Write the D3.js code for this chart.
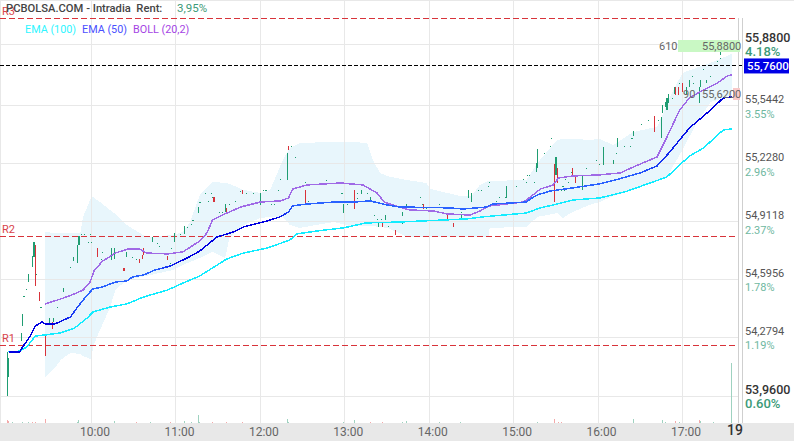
<!DOCTYPE html>
<html>
<head>
  <script src="https://d3js.org/d3.v7.min.js"></script>
  <style>
    body { margin: 0; background: #fff; }
    svg { display: block; font-family: Roboto, sans-serif; }
    .tick line, .domain { display: none; }
    .crisp { shape-rendering: crispEdges; }
  </style>
</head>
<body>
<svg id="chart" width="794" height="441"></svg>
<script>
// minutes after 09:00, prices in euro
const hourTicks = [60, 120, 180, 240, 300, 360, 420, 480];
const priceTicks = [55.88, 55.5442, 55.228, 54.9118, 54.5956, 54.2794, 53.96];
const pctTicks = ["4.18%", "3.55%", "2.96%", "2.37%", "1.78%", "1.19%", "0.60%"];
const pivotNames = ["R1", "R2", "R3"];
const pivotValues = [54.237, 54.831, 56.02];
const lastPrice = 55.763;

const ema50Min = [1,9,11,16,20,25,27,34,45,50,57,61,68,77,85,89,97,105,116,128,137,144,149,161,168,185,194,200,203,213,232,246,258,270,279,315,324,341,345,369,372,377,386,402,421,432,450,462,471,478,485,490,500,509,515];
const ema50Val = [54.2,54.2,54.227,54.282,54.342,54.364,54.353,54.353,54.391,54.445,54.511,54.544,54.555,54.582,54.587,54.609,54.62,54.647,54.669,54.713,54.751,54.795,54.827,54.855,54.882,54.915,54.937,54.964,54.997,55.007,55.018,55.018,55.024,55.002,54.991,54.986,54.98,54.991,55.007,55.018,55.035,55.057,55.078,55.095,55.117,55.138,55.177,55.215,55.291,55.357,55.422,55.455,55.52,55.586,55.591];

const ema100Min = [1,9,14,20,27,38,48,57,61,73,85,97,114,125,137,156,168,185,201,206,220,239,255,279,296,327,338,369,379,391,402,421,439,457,469,478,485,495,509,515];
const ema100Val = [54.2,54.205,54.227,54.287,54.293,54.304,54.331,54.386,54.418,54.445,54.462,54.5,54.538,54.576,54.615,54.707,54.74,54.767,54.811,54.844,54.86,54.877,54.904,54.909,54.915,54.926,54.937,54.958,54.986,55.007,55.029,55.04,55.073,55.122,55.155,55.22,55.269,55.313,55.411,55.417];

const bollMin = [27,38,46,54,59,62,68,77,86,94,99,114,125,137,142,146,153,166,180,194,200,203,213,237,253,263,268,279,286,303,313,329,336,343,367,372,379,388,392,402,421,436,445,462,469,478,485,495,505,512,515];
const bollVal = [54.462,54.489,54.511,54.538,54.582,54.647,54.696,54.74,54.762,54.762,54.74,54.735,54.746,54.806,54.849,54.92,54.947,54.991,55.018,55.024,55.04,55.089,55.111,55.122,55.111,55.067,55.018,54.991,54.975,54.969,54.953,54.947,54.969,54.997,55.018,55.046,55.089,55.111,55.149,55.16,55.166,55.177,55.209,55.264,55.373,55.52,55.586,55.63,55.668,55.706,55.711];

const bandMin = [27,34,38,45,52,54,59,60,61,66,73,77,85,99,118,125,130,137,146,155,158,168,180,187,196,201,208,232,244,256,260,265,270,277,284,298,301,322,330,336,342,343,369,377,391,395,402,414,421,431,445,462,469,471,480,490,500,505,515];
const bandUpper = [54.855,54.849,54.849,54.849,54.849,54.937,55.029,55.046,55.046,55.018,54.975,54.953,54.893,54.827,54.838,54.855,54.909,55.057,55.128,55.122,55.117,55.084,55.068,55.084,55.248,55.313,55.34,55.346,55.346,55.34,55.248,55.177,55.16,55.149,55.138,55.122,55.089,55.051,55.051,55.111,55.133,55.133,55.138,55.231,55.357,55.362,55.362,55.357,55.362,55.329,55.4,55.428,55.548,55.591,55.722,55.75,55.777,55.793,55.826];
const bandLower = [54.064,54.113,54.156,54.195,54.189,54.178,54.162,54.156,54.227,54.32,54.44,54.538,54.593,54.615,54.647,54.675,54.691,54.713,54.746,54.713,54.822,54.893,54.931,54.937,54.937,54.893,54.877,54.909,54.887,54.887,54.887,54.882,54.877,54.855,54.827,54.827,54.827,54.827,54.827,54.827,54.827,54.877,54.882,54.937,54.958,54.931,54.964,55.002,55.018,55.051,55.084,55.138,55.155,55.182,55.302,55.449,55.564,55.575,55.602];

const candleMin = [0,1,10,11,15,18,19,20,23,27,30,32,33,40,47,50,51,64,74,76,83,85,94,96,97,103,114,119,126,136,147,155,156,167,180,199,200,212,239,247,252,258,264,267,269,276,281,284,296,313,317,323,328,330,355,376,377,389,390,391,402,404,409,424,431,434,445,460,465,466,468,469,470,474,475,477,480,483,485,492,493,497,507];
const candleHigh = [54.2,54.167,54.304,54.407,54.626,54.724,54.8,54.784,54.527,54.293,54.386,54.364,54.386,54.549,54.718,54.784,54.833,54.767,54.767,54.767,54.658,54.746,54.707,54.729,54.767,54.827,54.724,54.849,54.887,54.991,55.046,55.007,54.986,55.084,55.068,55.286,55.324,55.084,55.007,55.084,55.084,55.046,54.904,54.904,54.947,54.866,54.964,55.007,55.007,54.953,54.904,54.947,55.084,55.068,55.106,55.231,55.308,55.226,55.264,55.204,55.204,55.166,55.166,55.318,55.248,55.368,55.406,55.488,55.482,55.548,55.564,55.586,55.608,55.646,55.646,55.646,55.668,55.646,55.684,55.646,55.684,55.684,55.848];
const candleLow = [53.96,54.064,54.26,54.342,54.582,54.664,54.718,54.56,54.478,54.178,54.358,54.326,54.364,54.527,54.696,54.686,54.784,54.718,54.702,54.707,54.642,54.718,54.686,54.707,54.729,54.8,54.702,54.8,54.844,54.958,55.018,54.964,54.958,55.062,55.002,55.138,55.302,55.002,54.958,54.98,55.062,55.018,54.882,54.882,54.92,54.838,54.942,54.975,54.98,54.92,54.882,54.92,55.04,55.018,55.04,55.182,55.204,55.018,55.166,55.122,55.16,55.122,55.084,55.22,55.226,55.318,55.379,55.4,55.368,55.504,55.537,55.52,55.558,55.608,55.602,55.602,55.619,55.602,55.646,55.558,55.646,55.668,55.82];
const candleUp = [1,1,1,1,1,1,1,0,0,0,1,0,1,1,1,1,1,0,1,1,0,1,0,0,0,1,0,1,1,1,0,1,0,0,1,1,0,0,1,0,1,1,1,0,1,0,1,1,0,0,0,1,1,1,1,1,1,0,1,0,0,0,1,1,1,1,1,0,1,1,1,1,1,1,0,0,0,1,1,1,1,1,1];

const dojiMin = [12,14,21,24,36,45,53,55,59,58,60,67,68,89,92,107,108,116,117,123,128,131,132,137,141,143,145,146,151,153,158,162,166,170,175,182,184,188,190,193,194,202,205,212,214,227,238,242,249,249,256,261,263,266,271,281,294,295,298,307,323,335,337,342,343,348,350,354,362,367,369,370,371,375,382,386,387,394,395,396,397,399,401,412,419,421,433,439,443,444,451,456,463,473,478,487,488,495,500,505,507];
const dojiVal = [54.505,54.544,54.626,54.445,54.445,54.664,54.844,54.844,54.844,54.8,54.8,54.707,54.746,54.718,54.707,54.795,54.778,54.686,54.767,54.844,54.882,54.898,54.92,55.018,55.068,55.024,55.068,55.046,54.964,54.964,55.007,55.024,55.078,55.068,55.068,55.084,55.084,55.007,55.007,55.084,55.144,55.324,55.264,55.128,55.024,55.138,55.068,55.007,55.068,55.04,55.068,54.947,54.926,54.926,54.887,54.904,55.046,55.007,54.986,55.007,54.964,55.084,55.084,55.106,55.128,55.024,55.046,55.046,55.106,55.144,55.128,55.166,55.166,55.128,55.286,55.324,55.368,55.084,55.106,55.084,55.144,55.128,55.182,55.204,55.248,55.226,55.286,55.324,55.324,55.368,55.444,55.466,55.466,55.586,55.668,55.706,55.668,55.744,55.706,55.788,55.804];

const volMin = [0,1,4,11,15,18,20,27,50,51,76,92,102,116,126,131,136,137,146,156,167,199,200,239,247,258,267,281,284,307,322,377,389,392,394,445,466,468,475,478,492,493,502,515];
const volVal = [3.5,2.5,1,1,1,1,1.5,4,1,3,2,1,1,1,2,1,8,1,1,1,1,4,1,1,3,1,1,1,2,1,1,1,4,1,1,4,3,1,2,1,3,2,1,60];
const volUp = [0,0,1,1,1,0,0,0,1,1,1,0,1,0,1,1,1,1,0,0,0,1,1,1,1,0,0,1,1,1,1,1,0,0,0,1,1,1,0,1,0,1,1,1];

const svg = d3.select("#chart");
const x = d3.scaleLinear().domain([0, 515]).range([7.1, 731.7]);
const y = d3.scaleLinear().domain([53.96, 55.88]).range([396, 44]);
const yVol = d3.scaleLinear().domain([0, 60]).range([423, 363]);
const green = "#1f9d72", red = "#d8323a";

// band first, the grid sits on top of it
const band = d3.area().x((d, i) => x(bandMin[i])).y0((d, i) => y(bandLower[i])).y1(d => y(d));
svg.append("path").attr("class", "crisp").attr("d", band(bandUpper)).attr("fill", "#e8f6fc");

const grid = svg.append("g").attr("class", "crisp").attr("stroke", "#e8e8e8");
grid.selectAll("line.h").data(priceTicks).join("line").attr("class", "h")
  .attr("x1", 0).attr("x2", 738).attr("y1", d => y(d)).attr("y2", d => y(d));
grid.selectAll("line.v").data(hourTicks).join("line").attr("class", "v")
  .attr("x1", d => x(d)).attr("x2", d => x(d)).attr("y1", 0).attr("y2", 423);
grid.append("line").attr("x1", 0).attr("x2", 794).attr("y1", 0.5).attr("y2", 0.5);
grid.append("line").attr("x1", 0.5).attr("x2", 0.5).attr("y1", 0).attr("y2", 423);

// volume
svg.append("g").attr("class", "crisp").selectAll("rect").data(volVal).join("rect")
  .attr("x", (d, i) => x(volMin[i]) - 0.5).attr("width", 1)
  .attr("y", d => yVol(d)).attr("height", d => yVol(0) - yVol(d))
  .attr("fill", (d, i) => volUp[i] ? "#9fd2c0" : "#f3a9a9");

// pivots
svg.append("g").attr("class", "crisp").selectAll("line").data(pivotValues).join("line")
  .attr("x1", 0).attr("x2", 736).attr("y1", d => y(d)).attr("y2", d => y(d))
  .attr("stroke", "#d8333a").attr("stroke-width", 1).attr("stroke-dasharray", "6,3");
svg.append("g").selectAll("text").data(pivotValues).join("text")
  .attr("x", 2).attr("y", d => y(d) - 3).text((d, i) => pivotNames[i])
  .attr("font-size", 11).attr("fill", "#d8434a");

// candles and dots
svg.append("g").attr("class", "crisp").selectAll("rect").data(candleHigh).join("rect")
  .attr("x", (d, i) => x(candleMin[i]) - 0.5).attr("width", 1.2)
  .attr("y", d => y(d)).attr("height", (d, i) => y(candleLow[i]) - y(d))
  .attr("fill", (d, i) => candleUp[i] ? green : red);
svg.append("g").attr("class", "crisp").selectAll("rect").data(dojiVal).join("rect")
  .attr("x", (d, i) => x(dojiMin[i]) - 0.5).attr("y", d => y(d)).attr("width", 1.2).attr("height", 1.2)
  .attr("fill", green);

// lines
const defs = svg.append("defs");
const ema50Tone = defs.append("linearGradient").attr("id", "ema50Tone")
  .attr("gradientUnits", "userSpaceOnUse").attr("x1", 0).attr("x2", 794).attr("y1", 0).attr("y2", 0);
[[0, "#0000e0"], [35, "#0000e0"], [55, "#2a62ff"], [105, "#2a62ff"], [125, "#0000e0"], [190, "#0000e0"], [205, "#2a62ff"], [445, "#2a62ff"], [490, "#0000e0"]]
  .forEach(s => ema50Tone.append("stop").attr("offset", x(s[0]) / 794).attr("stop-color", s[1]));

function drawLine(mins, vals, color) {
  const line = d3.line().x((d, i) => x(mins[i])).y(d => y(d));
  svg.append("path").attr("class", "crisp").attr("d", line(vals))
    .attr("fill", "none").attr("stroke", color).attr("stroke-width", 1.5);
}
drawLine(ema100Min, ema100Val, "#12ecff");
drawLine(bollMin, bollVal, "#a06ae6");
drawLine(ema50Min, ema50Val, "url(#ema50Tone)");

// last price line
svg.append("line").attr("class", "crisp").attr("x1", 0).attr("x2", 743).attr("y1", y(lastPrice)).attr("y2", y(lastPrice))
  .attr("stroke", "#000").attr("stroke-width", 1).attr("stroke-dasharray", "4,2");

// right axis rails and bottom strip
svg.append("rect").attr("x", 0).attr("y", 423).attr("width", 794).attr("height", 18).attr("fill", "#e8e8e8");
svg.append("g").attr("class", "crisp").attr("stroke", "#cfcfcf").attr("stroke-width", 1.5)
  .selectAll("line").data([738.5, 742.5]).join("line")
  .attr("x1", d => d).attr("x2", d => d).attr("y1", 18).attr("y2", 423);

const timeAxis = d3.axisBottom(x).tickValues(hourTicks).tickSize(0)
  .tickFormat(d => (9 + d / 60) + ":00");
svg.append("g").attr("transform", "translate(3,423)").call(timeAxis)
  .call(g => g.selectAll("text").attr("font-family", "Roboto, sans-serif").attr("font-size", 12).attr("fill", "#666").attr("dy", "0.9em").attr("y", 2));
svg.append("text").attr("x", 735).attr("y", 435).attr("text-anchor", "middle")
  .attr("font-size", 14).attr("font-weight", 500).attr("fill", "#333").text("19");

const isEnd = i => i === 0 || i === 6;
const priceAxis = d3.axisRight(y).tickValues(priceTicks).tickSize(0)
  .tickFormat(d => d3.format(".4f")(d).replace(".", ","));
const priceG = svg.append("g").attr("transform", "translate(745,0)").call(priceAxis);
priceG.selectAll("text").attr("x", 0).attr("dy", 0).attr("y", -3)
  .attr("font-family", "Roboto, sans-serif")
  .attr("font-size", (d, i) => isEnd(i) ? 12.5 : 11)
  .attr("font-weight", (d, i) => isEnd(i) ? 500 : 400)
  .attr("fill", (d, i) => isEnd(i) ? "#333" : "#555");
svg.append("g").selectAll("text").data(priceTicks).join("text")
  .attr("x", 745).attr("y", d => y(d) + 12).text((d, i) => pctTicks[i])
  .attr("font-size", (d, i) => isEnd(i) ? 13 : 11)
  .attr("font-weight", (d, i) => isEnd(i) ? 500 : 400)
  .attr("fill", (d, i) => isEnd(i) ? "#3c9a78" : "#6fb89f");

// last price tag
svg.append("rect").attr("x", 744).attr("y", y(lastPrice) - 7).attr("width", 45).attr("height", 15).attr("fill", "#0000e6");
svg.append("text").attr("x", 747).attr("y", y(lastPrice) + 4.5).attr("font-size", 11.5).attr("font-weight", 500)
  .attr("fill", "#fff").text("55,7600");

// day high and low tags
svg.append("rect").attr("x", 678).attr("y", 40).attr("width", 62).attr("height", 12).attr("fill", "#c9f8c4");
svg.append("rect").attr("x", 733).attr("y", 88).attr("width", 7).attr("height", 12).attr("fill", "#f8c9c9");
[["610", 659, 50], ["55,8800", 702, 50], ["90", 683, 98], ["55,6200", 702, 98]].forEach(t => {
  svg.append("text").attr("x", t[1]).attr("y", t[2]).attr("font-size", 11).attr("fill", "#666").text(t[0]);
});

// header
svg.append("text").attr("x", 6).attr("y", 12).attr("font-size", 11.2).attr("font-weight", 500)
  .attr("fill", "#444").attr("xml:space", "preserve").text("PCBOLSA.COM - Intradia  Rent:");
svg.append("text").attr("x", 177).attr("y", 12).attr("font-size", 11.5).attr("fill", "#3c9a78").text("3,95%");
[["EMA (100)", 25, "#2ff5ff"], ["EMA (50)", 82, "#4a50ff"], ["BOLL (20,2)", 133, "#a544e4"]].forEach(t => {
  svg.append("text").attr("x", t[1]).attr("y", 33).attr("font-size", 10.8).attr("fill", t[2]).text(t[0]);
});
</script>
</body>
</html>
